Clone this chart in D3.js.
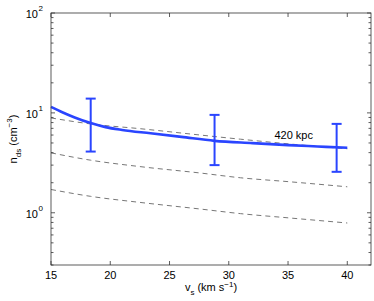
<!DOCTYPE html>
<html>
<head>
<meta charset="utf-8">
<script src="https://cdn.jsdelivr.net/npm/d3@7"></script>
<style>
  body { margin: 0; background: #fff; }
  text { font-family: "Liberation Sans", Arial, sans-serif; fill: #000; }
</style>
</head>
<body>
<div id="container"></div>
<script>
// blue model curve (v_s, n_ds)
const curveV = [15, 16, 17, 18.35, 19.6, 21, 23.4, 26, 28.8, 32, 35, 37.5, 40];
const curveN = [11.5, 10.1, 9.0, 7.9, 7.2, 6.75, 6.25, 5.75, 5.25, 4.98, 4.76, 4.61, 4.47];

// measurement points with error bars
const pointV = [18.35, 28.8, 39.1];
const pointN = [7.9, 5.25, 4.5];
const pointLo = [4.1, 3.0, 2.57];
const pointHi = [13.9, 9.55, 7.76];

// dashed reference lines
const dashV = [15, 18.35, 22.5, 27.6, 31, 35, 40];
const dashTop = [8.9, 7.75, 6.95, 6.0, 5.45, 4.9, 4.37];
const dashMid = [3.98, 3.36, 2.9, 2.5, 2.24, 2.05, 1.82];
const dashLow = [1.71, 1.46, 1.27, 1.09, 0.98, 0.89, 0.79];

const xTicks = [15, 20, 25, 30, 35, 40];
const yMajor = [1, 10, 100];
const labelText = '420 kpc';

const width = 374, height = 301;
const margin = { top: 13, right: 3, bottom: 36, left: 51 };

const svg = d3.select('#container').append('svg').attr('width', width).attr('height', height);
const x = d3.scaleLinear().domain([15, 42]).range([margin.left, width - margin.right]);
const y = d3.scaleLog().domain([0.3, 100]).range([height - margin.bottom, margin.top]);

const x0 = x.range()[0], x1 = x.range()[1], y0 = y.range()[0], y1 = y.range()[1];
const axisColor = '#333';

// dashed lines
const line = d3.line().x(d => x(d[0])).y(d => y(d[1])).curve(d3.curveMonotoneX);
[dashTop, dashMid, dashLow].forEach(s => {
  svg.append('path').attr('d', line(dashV.map((v, i) => [v, s[i]])))
    .attr('fill', 'none').attr('stroke', '#777').attr('stroke-width', 1)
    .attr('stroke-dasharray', '5,4');
});

// blue curve
const blue = '#2a45ff';
svg.append('path').attr('d', line(curveV.map((v, i) => [v, curveN[i]])))
  .attr('fill', 'none').attr('stroke', blue).attr('stroke-width', 2.6);

// error bars
pointV.forEach((v, i) => {
  const g = svg.append('g').attr('stroke', blue).attr('stroke-width', 2);
  g.append('line').attr('x1', x(v)).attr('x2', x(v)).attr('y1', y(pointLo[i])).attr('y2', y(pointHi[i]));
  [pointLo[i], pointHi[i]].forEach(e => {
    g.append('line').attr('x1', x(v) - 5).attr('x2', x(v) + 5).attr('y1', y(e)).attr('y2', y(e));
  });
});

svg.append('text').attr('x', x(37.1)).attr('y', y(pointN[2]) - 9)
  .attr('text-anchor', 'end').attr('font-size', 11).text(labelText);

// box
svg.append('rect').attr('x', x0).attr('y', y1).attr('width', x1 - x0).attr('height', y0 - y1)
  .attr('fill', 'none').attr('stroke', axisColor).attr('stroke-width', 0.8);

// x ticks (bottom + top, inward)
const tk = svg.append('g').attr('stroke', axisColor).attr('stroke-width', 0.8);
xTicks.forEach(t => {
  tk.append('line').attr('x1', x(t)).attr('x2', x(t)).attr('y1', y0).attr('y2', y0 - 4);
  tk.append('line').attr('x1', x(t)).attr('x2', x(t)).attr('y1', y1).attr('y2', y1 + 4);
  svg.append('text').attr('x', x(t)).attr('y', y0 + 14).attr('text-anchor', 'middle')
    .attr('font-size', 11).text(t);
});

// y ticks: major and minor, both sides
const yMinor = [];
[0.1, 1, 10].forEach(d => { for (let k = 2; k <= 9; k++) { const v = d * k; if (v >= 0.3 && v <= 100) yMinor.push(v); } });
yMinor.forEach(v => {
  tk.append('line').attr('x1', x0).attr('x2', x0 + 2.5).attr('y1', y(v)).attr('y2', y(v));
  tk.append('line').attr('x1', x1).attr('x2', x1 - 2.5).attr('y1', y(v)).attr('y2', y(v));
});
yMajor.forEach(v => {
  tk.append('line').attr('x1', x0).attr('x2', x0 + 4).attr('y1', y(v)).attr('y2', y(v));
  tk.append('line').attr('x1', x1).attr('x2', x1 - 4).attr('y1', y(v)).attr('y2', y(v));
  svg.append('text').attr('x', x0 - 13).attr('y', y(v) + 5).attr('text-anchor', 'end')
    .attr('font-size', 11).text('10');
  svg.append('text').attr('x', x0 - 12.5).attr('y', y(v) - 2).attr('font-size', 8)
    .text(Math.round(Math.log10(v)));
});

// x label
const xl = svg.append('text').attr('x', (x0 + x1) / 2).attr('y', y0 + 26).attr('text-anchor', 'middle').attr('font-size', 11);
xl.append('tspan').text('v');
xl.append('tspan').attr('font-size', 8).attr('dy', 4).text('s');
xl.append('tspan').attr('dy', -4).text(' (km s');
xl.append('tspan').attr('font-size', 8).attr('dy', -4).text('−1');
xl.append('tspan').attr('dy', 4).text(')');

// y label
const yl = svg.append('text').attr('transform', `translate(17,${(y0 + y1) / 2}) rotate(-90)`)
  .attr('text-anchor', 'middle').attr('font-size', 11);
yl.append('tspan').text('n');
yl.append('tspan').attr('font-size', 8).attr('dy', 4).text('ds');
yl.append('tspan').attr('dy', -4).text(' (cm');
yl.append('tspan').attr('font-size', 8).attr('dy', -5).text('−3');
yl.append('tspan').attr('dy', 5).text(')');
</script>
</body>
</html>
